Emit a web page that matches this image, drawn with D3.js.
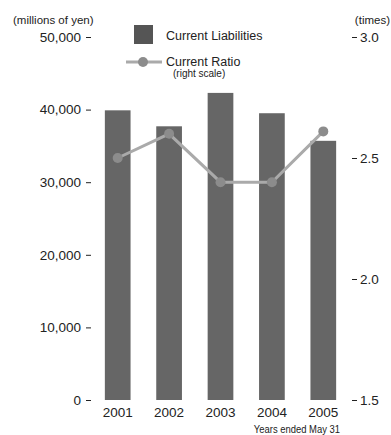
<!DOCTYPE html>
<html>
<head>
<meta charset="utf-8">
<script src="https://cdn.jsdelivr.net/npm/d3@7"></script>
<style>
  body { margin: 0; background: #fff; }
  svg { display: block; font-family: "Liberation Sans", Arial, Helvetica, sans-serif; }
</style>
</head>
<body>
<svg id="chart" width="391" height="435"></svg>
<script>
// Fiscal years ended May 31
const years = ["2001", "2002", "2003", "2004", "2005"];
// Current liabilities, millions of yen
const liabilities = [39900, 37700, 42300, 39500, 35700];
// Current ratio, times (right scale)
const currentRatio = [2.50, 2.60, 2.40, 2.40, 2.61];
const leftTicks = [0, 10000, 20000, 30000, 40000, 50000];
const rightTicks = [1.5, 2.0, 2.5, 3.0];

const svg = d3.select("#chart");
const plotTop = 37, plotBottom = 400;

const x = d3.scaleBand().domain(years).range([92, 349]).paddingInner(0.5).paddingOuter(0.25);
const yL = d3.scaleLinear().domain([0, 50000]).range([plotBottom, plotTop]);
const yR = d3.scaleLinear().domain([1.5, 3.0]).range([plotBottom, plotTop]);

const fmt = d3.format(",");

// Left axis
const left = svg.append("g").attr("transform", "translate(91,0)")
  .call(d3.axisLeft(yL).tickValues(leftTicks).tickFormat(fmt).tickSize(5).tickPadding(5));
left.select(".domain").remove();
left.selectAll("line").attr("stroke", "#222");
left.selectAll("text").attr("font-size", 13.5).attr("fill", "#222").attr("font-family", null);

// Right axis
const right = svg.append("g").attr("transform", "translate(352,0)")
  .call(d3.axisRight(yR).tickValues(rightTicks).tickFormat(d3.format(".1f")).tickSize(5).tickPadding(3));
right.select(".domain").remove();
right.selectAll("line").attr("stroke", "#222");
right.selectAll("text").attr("font-size", 13.5).attr("fill", "#222").attr("font-family", null);

// Bars
svg.append("g").selectAll("rect").data(years).join("rect")
  .attr("x", d => x(d))
  .attr("width", x.bandwidth())
  .attr("y", (d, i) => yL(liabilities[i]))
  .attr("height", (d, i) => yL(0) - yL(liabilities[i]))
  .attr("fill", "#666");

// Year labels
svg.append("g").selectAll("text").data(years).join("text")
  .attr("x", d => x(d) + x.bandwidth() / 2)
  .attr("y", 417)
  .attr("text-anchor", "middle")
  .attr("font-size", 13.5)
  .attr("fill", "#222")
  .text(d => d);

// Ratio line
const pts = years.map((d, i) => [x(d) + x.bandwidth() / 2, yR(currentRatio[i])]);
svg.append("path")
  .attr("d", d3.line()(pts))
  .attr("fill", "none")
  .attr("stroke", "#aaa")
  .attr("stroke-width", 3);
svg.append("g").selectAll("circle").data(pts).join("circle")
  .attr("cx", d => d[0]).attr("cy", d => d[1]).attr("r", 5)
  .attr("fill", "#8c8c8c");

// Unit labels
svg.append("text").attr("x", 13).attr("y", 24).attr("font-size", 11.5).attr("fill", "#222")
  .text("(millions of yen)");
svg.append("text").attr("x", 390).attr("y", 24).attr("text-anchor", "end")
  .attr("font-size", 11.5).attr("fill", "#222")
  .text("(times)");

// Legend
svg.append("rect").attr("x", 134).attr("y", 25).attr("width", 19).attr("height", 19).attr("fill", "#555");
svg.append("text").attr("x", 166).attr("y", 40).attr("font-size", 12.5).attr("fill", "#222")
  .text("Current Liabilities");
svg.append("line").attr("x1", 126).attr("x2", 162).attr("y1", 62).attr("y2", 62)
  .attr("stroke", "#aaa").attr("stroke-width", 3);
svg.append("circle").attr("cx", 143).attr("cy", 62).attr("r", 5).attr("fill", "#8c8c8c");
svg.append("text").attr("x", 166).attr("y", 66).attr("font-size", 12.5).attr("fill", "#222")
  .text("Current Ratio");
svg.append("text").attr("x", 173).attr("y", 77).attr("font-size", 10).attr("fill", "#222")
  .text("(right scale)");

// Footnote
svg.append("text").attr("x", 340).attr("y", 433).attr("text-anchor", "end")
  .attr("font-size", 10.5).attr("fill", "#222")
  .attr("transform", "translate(340,0) scale(0.9,1) translate(-340,0)")
  .text("Years ended May 31");
</script>
</body>
</html>
